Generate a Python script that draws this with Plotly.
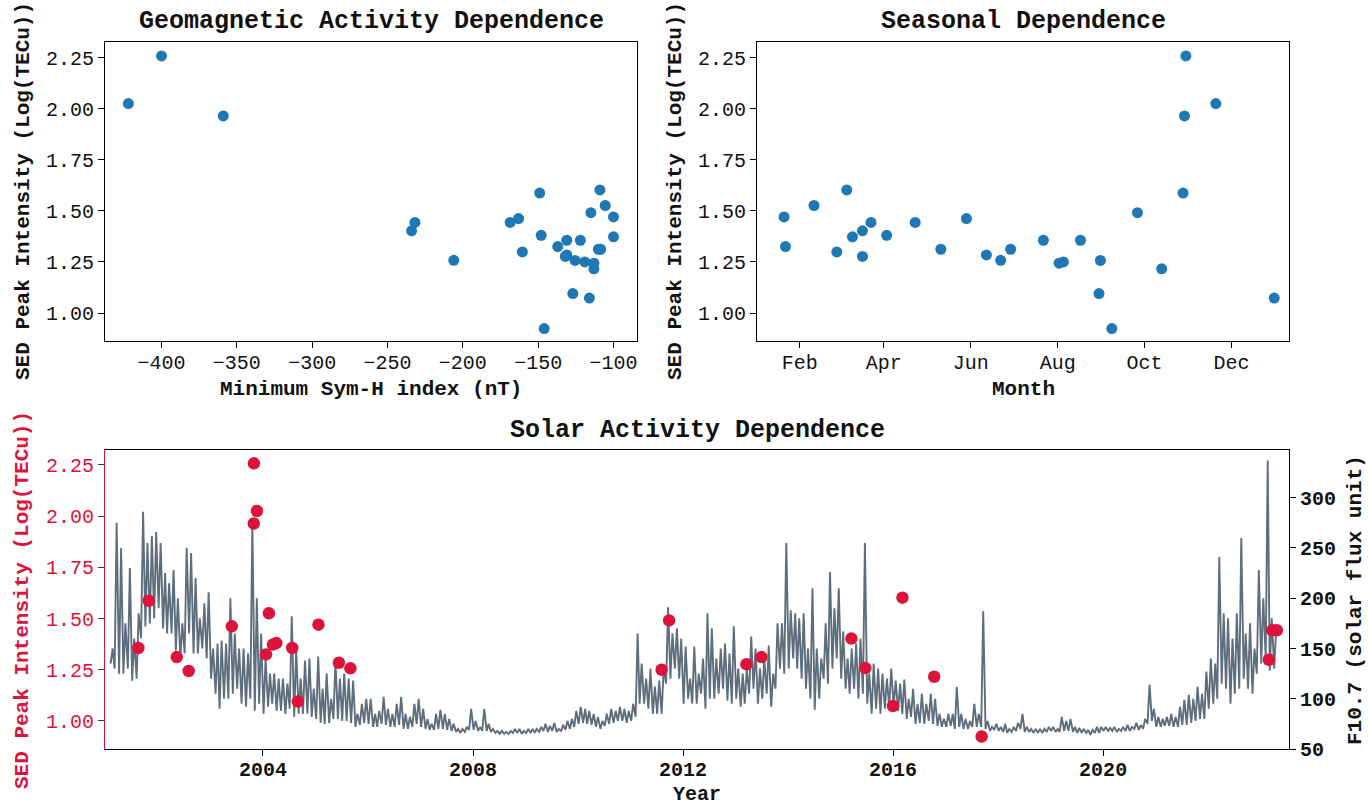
import pandas as pd
import plotly.graph_objects as go

# ---------------- Event data ----------------
event_dates = ["2001-08-17", "2001-10-28", "2002-05-11", "2002-08-02", "2003-05-29",
               "2003-10-29", "2003-10-30", "2003-11-20", "2004-01-22", "2004-02-11",
               "2004-03-10", "2004-04-03", "2004-07-22", "2004-08-30", "2005-01-21",
               "2005-06-12", "2005-08-31", "2011-08-05", "2011-09-26", "2013-03-17",
               "2013-06-29", "2015-03-17", "2015-06-22", "2015-12-31", "2016-03-06",
               "2016-10-13", "2017-09-08", "2023-02-27", "2023-03-23", "2023-04-23"]
sed_intensity = [1.356, 1.587, 1.312, 1.244, 1.462,
                 1.964, 2.258, 2.025, 1.325, 1.526,
                 1.373, 1.380, 1.356, 1.095, 1.470,
                 1.284, 1.257, 1.250, 1.491, 1.277,
                 1.312, 1.402, 1.258, 1.073, 1.602,
                 1.216, 0.924, 1.299, 1.443, 1.443]
min_symh = [-131, -149, -110, -113, -163,
            -359, -400, -422, -137, -105.5,
            -100, -148, -122, -127, -100,
            -131, -125.5, -119, -115, -132,
            -108.5, -234, -206, -116, -109,
            -113, -146, -160.5, -168.6, -231.8]

# ---------------- F10.7 monthly low / high values ----------------
f107_start_month = "2001-02"
f107_low = [
    135, 130, 125, 125, 130, 118, 120, 160, 172, 175, 180,                # 2001 (Feb-Dec)
    190, 170, 165, 165, 148, 140, 145, 165, 145, 145, 150, 140,           # 2002
    120, 105, 90, 100, 100, 105, 110, 95, 92, 100, 88, 95,                # 2003
    85, 92, 95, 88, 88, 85, 90, 82, 85, 85, 85, 82,                       # 2004
    80, 76, 75, 76, 80, 80, 78, 78, 76, 72, 74, 76,                       # 2005
    75, 72, 72, 75, 74, 72, 72, 74, 70, 70, 72, 75,                       # 2006
    72, 70, 69, 69, 70, 70, 69, 68, 67, 66, 67, 69,                       # 2007
    69, 68, 68, 68, 67, 66, 65, 65, 65, 66, 66, 65,                       # 2008
    66, 66, 66, 67, 68, 67, 68, 67, 68, 69, 70, 72,                       # 2009
    75, 76, 75, 74, 72, 70, 73, 75, 76, 78, 78, 76,                       # 2010
    78, 82, 95, 95, 90, 85, 85, 85, 115, 120, 130, 120,                   # 2011
    95, 100, 95, 95, 105, 90, 100, 100, 105, 110, 98, 95,                 # 2012
    100, 92, 95, 105, 110, 95, 100, 105, 92, 110, 130, 125,               # 2013
    130, 140, 130, 120, 110, 100, 89, 100, 120, 115, 130, 140,            # 2014
    120, 110, 105, 110, 100, 105, 95, 85, 90, 85, 90, 92,                 # 2015
    92, 88, 85, 80, 82, 75, 76, 75, 78, 75, 73, 72,                       # 2016
    72, 73, 70, 72, 70, 70, 72, 72, 72, 70, 68, 69,                       # 2017
    68, 67, 66, 67, 68, 70, 67, 67, 66, 66, 66, 67,                       # 2018
    68, 67, 67, 68, 68, 67, 66, 66, 66, 64, 66, 66,                       # 2019
    68, 68, 68, 67, 68, 68, 68, 70, 69, 70, 75, 78,                       # 2020
    72, 72, 73, 73, 72, 72, 74, 74, 76, 78, 80, 80,                       # 2021
    90, 95, 100, 115, 110, 95, 105, 110, 120, 110, 105, 125,              # 2022
    135, 140, 128, 130,                                                   # 2023 (Jan-Apr)
]
f107_high = [
    150, 275, 250, 175, 230, 160, 185, 286, 255, 262, 266,                # 2001 (Feb-Dec)
    255, 225, 215, 228, 200, 175, 250, 245, 220, 180, 195, 206,           # 2002
    150, 155, 158, 155, 200, 165, 150, 150, 145, 275, 200, 165,           # 2003
    140, 125, 125, 120, 120, 115, 182, 150, 120, 138, 140, 110,           # 2004
    142, 110, 125, 100, 138, 120, 125, 120, 118, 85, 95, 100,             # 2005
    100, 85, 88, 102, 90, 85, 95, 102, 85, 82, 95, 100,                   # 2006
    90, 80, 75, 85, 89, 85, 80, 75, 70, 70, 72, 90,                       # 2007
    78, 72, 90, 75, 70, 68, 68, 67, 68, 70, 70, 68,                       # 2008
    70, 70, 70, 72, 75, 73, 76, 70, 74, 78, 80, 88,                       # 2009
    92, 90, 88, 85, 82, 78, 85, 90, 88, 92, 90, 88,                       # 2010
    95, 165, 135, 120, 130, 112, 118, 130, 191, 165, 170, 160,            # 2011
    152, 120, 152, 125, 140, 185, 170, 140, 150, 155, 145, 172,           # 2012
    130, 125, 130, 162, 150, 130, 140, 153, 125, 175, 175, 255,           # 2013
    188, 185, 180, 185, 150, 210, 150, 140, 175, 226, 190, 210,           # 2014
    167, 140, 150, 155, 160, 255, 125, 135, 130, 125, 120, 130,           # 2015
    118, 115, 119, 100, 110, 95, 105, 95, 105, 100, 85, 80,               # 2016
    85, 85, 112, 85, 80, 78, 95, 85, 187, 78, 72, 75,                     # 2017
    72, 75, 70, 72, 76, 85, 72, 70, 70, 70, 70, 72,                       # 2018
    72, 70, 82, 78, 80, 72, 71, 70, 69, 69, 72, 72,                       # 2019
    72, 71, 72, 70, 72, 74, 72, 76, 74, 80, 114, 90,                      # 2020
    82, 80, 82, 85, 82, 92, 99, 104, 100, 112, 105, 127,                  # 2021
    140, 135, 241, 185, 180, 160, 185, 260, 165, 175, 150, 228,           # 2022
    200, 337, 180, 170,                                                   # 2023 (Jan-Apr)
]

# ---------------- Build series ----------------
months = pd.date_range(f107_start_month + "-01", periods=len(f107_low), freq="MS")
f107_dates, f107_vals = [], []
for m, lo, hi in zip(months, f107_low, f107_high):
    f107_dates.append(m + pd.Timedelta(days=4))
    f107_vals.append(lo)
    f107_dates.append(m + pd.Timedelta(days=18))
    f107_vals.append(hi)

ev = pd.to_datetime(pd.Series(event_dates))
season_dates = [d.replace(year=2001) for d in ev]

W, H = 1369, 805
FONT = "Liberation Mono"
BLUE = "#1f77b4"
RED = "#DC143C"
LINE = "#5f6e7d"


def px_x(p):
    return p / W


def px_y(p):
    return 1 - p / H


fig = go.Figure()

fig.add_trace(go.Scatter(x=min_symh, y=sed_intensity, mode="markers",
                         marker=dict(color=BLUE, size=11), xaxis="x", yaxis="y",
                         showlegend=False))
fig.add_trace(go.Scatter(x=season_dates, y=sed_intensity, mode="markers",
                         marker=dict(color=BLUE, size=11), xaxis="x2", yaxis="y2",
                         showlegend=False))
fig.add_trace(go.Scatter(x=f107_dates, y=f107_vals, mode="lines",
                         line=dict(color=LINE, width=1.9), xaxis="x3", yaxis="y3",
                         showlegend=False))
fig.add_trace(go.Scatter(x=ev, y=sed_intensity, mode="markers",
                         marker=dict(color=RED, size=12.5), xaxis="x3", yaxis="y4",
                         showlegend=False))

tickfont = dict(family=FONT, size=20, color="#111")
tickfont_b = dict(family=FONT, size=20, color="#111", weight="bold")
common = dict(showgrid=False, zeroline=False, showline=True, linecolor="black", linewidth=1.2,
              ticks="outside", ticklen=6, tickwidth=1.2, tickcolor="black", automargin=False)

top_dom = [px_y(341), px_y(42)]
bot_dom = [px_y(749), px_y(450)]
int_ticks = [1.0, 1.25, 1.5, 1.75, 2.0, 2.25]

fig.update_layout(
    width=W, height=H,
    margin=dict(l=0, r=0, t=0, b=0),
    paper_bgcolor="white", plot_bgcolor="white",
    xaxis=dict(domain=[px_x(105), px_x(637)], anchor="y", range=[-437.5, -84.4],
               tickvals=[-400, -350, -300, -250, -200, -150, -100], mirror=True,
               ticklabelstandoff=-3, tickfont=tickfont, **common),
    yaxis=dict(domain=top_dom, anchor="x", range=[0.863, 2.326], tickvals=int_ticks,
               tickformat=".2f", mirror=True, tickfont=tickfont, **common),
    xaxis2=dict(domain=[px_x(757), px_x(1288.5)], anchor="y2", type="date",
                range=["2001-01-02", "2002-01-10"],
                tickvals=["2001-02-01", "2001-04-01", "2001-06-01", "2001-08-01",
                          "2001-10-01", "2001-12-01"],
                ticktext=["Feb", "Apr", "Jun", "Aug", "Oct", "Dec"],
                mirror=True, ticklabelstandoff=-3, tickfont=tickfont, **common),
    yaxis2=dict(domain=top_dom, anchor="x2", range=[0.863, 2.326], tickvals=int_ticks,
                tickformat=".2f", mirror=True, tickfont=tickfont, **common),
    xaxis3=dict(domain=[px_x(105), px_x(1289)], anchor="y3", type="date",
                range=["2000-12-28", "2023-07-17"],
                tickvals=["2004-01-01", "2008-01-01", "2012-01-01", "2016-01-01", "2020-01-01"],
                ticktext=["2004", "2008", "2012", "2016", "2020"],
                mirror=True, ticklabelstandoff=-4, tickfont=tickfont_b, **common),
    yaxis3=dict(domain=bot_dom, anchor="x3", side="right", range=[50, 347.5],
                tickvals=[50, 100, 150, 200, 250, 300], tickfont=tickfont_b, **common),
    yaxis4=dict(overlaying="y3", anchor="x3", side="left", range=[0.863, 2.323],
                tickvals=int_ticks, tickformat=".2f",
                tickfont=dict(family=FONT, size=20, color=RED),
                showgrid=False, zeroline=False, showline=True, linecolor=RED, linewidth=1.2,
                ticks="outside", ticklen=6, tickwidth=1.2, tickcolor="#333", automargin=False),
)

def ann(text, x, y, size=21, color="#111", angle=0, bold=True):
    fig.add_annotation(text=text, x=px_x(x), y=px_y(y), xref="paper", yref="paper",
                       showarrow=False, textangle=angle, xanchor="center", yanchor="middle",
                       font=dict(family=FONT, size=size, color=color,
                                 weight="bold" if bold else "normal"))

ann("Geomagnetic Activity Dependence", 371, 22, size=25)
ann("Seasonal Dependence", 1023, 22, size=25)
ann("Solar Activity Dependence", 697, 430, size=25)
ann("Minimum Sym-H index (nT)", 371, 389)
ann("Month", 1023, 389)
ann("Year", 697, 794, size=20)
ann("SED Peak Intensity (Log(TECu))", 23, 191, angle=-90)
ann("SED Peak Intensity (Log(TECu))", 675, 191, angle=-90)
ann("SED Peak Intensity (Log(TECu))", 22, 600, color=RED, angle=-90)
ann("F10.7 (solar flux unit)", 1355, 600, angle=-90)

fig.write_html("out.html")
